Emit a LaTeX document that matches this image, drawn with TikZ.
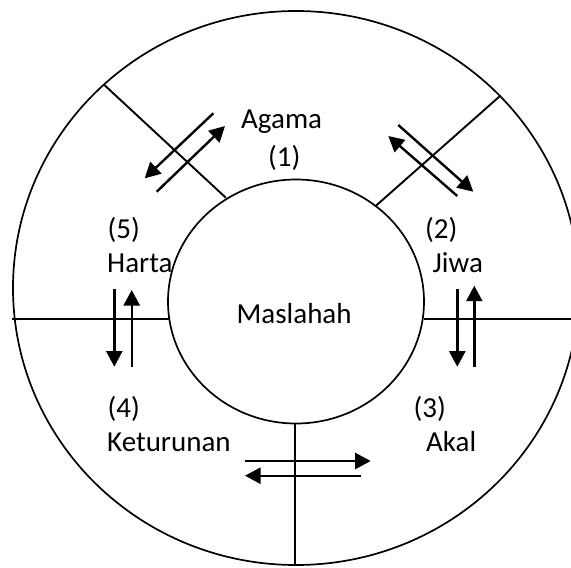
\documentclass[tikz,border=0pt]{standalone}
\usepackage{fontspec}
\setmainfont{Carlito}
\usetikzlibrary{arrows.meta}
\begin{document}
\begin{tikzpicture}[x=1pt,y=-1pt,
  ring/.style={line width=1.7pt},
  divider/.style={line width=1.9pt},
  flow/.style={line width=2.4pt,-{Triangle[length=15.5pt,width=16pt]}},
  lbl/.style={inner sep=0pt,anchor=base west,font=\fontsize{29}{35}\selectfont}]
\useasboundingbox (0,0) rectangle (571,568);
% circles
\draw[ring] (296,288) ellipse [x radius=283pt, y radius=277pt];
\draw[ring] (296,301.5) ellipse [x radius=128pt, y radius=122pt];
% dividers
\coordinate (ul1) at (103.8,84.5);  \coordinate (ul2) at (225.8,197.7);
\coordinate (ur1) at (500.7,95.4);  \coordinate (ur2) at (375.1,206.5);
\coordinate (l1) at (12,318.6);     \coordinate (l2) at (168.8,318.6);
\coordinate (r1) at (423.5,318.6);  \coordinate (r2) at (571,318.6);
\coordinate (b1) at (295,423.5);    \coordinate (b2) at (295,566);
\draw[divider] (ul1) -- (ul2);
\draw[divider] (ur1) -- (ur2);
\draw[divider] (l1) -- (l2);
\draw[divider] (r1) -- (r2);
\draw[divider] (b1) -- (b2);
% labels
\node[lbl] (agama) at (241,128.2) {Agama};
\node[lbl] (n1) at (268,166.8) {(1)};
\node[lbl] (n5) at (107.5,238.5) {(5)};
\node[lbl] (harta) at (107,272.4) {Harta};
\node[lbl] (n2) at (425,238.5) {(2)};
\node[lbl] (jiwa) at (432.5,272.4) {Jiwa};
\node[lbl] (maslahah) at (236.5,323) {Maslahah};
\node[lbl] (n4) at (107.5,417) {(4)};
\node[lbl] (keturunan) at (107,451.6) {Keturunan};
\node[lbl] (n3) at (413.5,417) {(3)};
\node[lbl] (akal) at (426,451.6) {Akal};
% arrow end points
\coordinate (a1s) at (213.3,113.3); \coordinate (a1e) at (144.7,178.3);
\coordinate (a2s) at (156.7,191.7); \coordinate (a2e) at (225,126);
\coordinate (b1s) at (398.3,125);   \coordinate (b1e) at (473.3,191.7);
\coordinate (b2s) at (457.3,196);   \coordinate (b2e) at (388.3,136);
\coordinate (c1s) at (114.3,289.3); \coordinate (c1e) at (114.3,366.7);
\coordinate (c2s) at (131.7,367.3); \coordinate (c2e) at (131.7,290);
\coordinate (d1s) at (457.3,289.3); \coordinate (d1e) at (457.3,366.7);
\coordinate (d2s) at (474.3,367);   \coordinate (d2e) at (474.3,285.7);
\coordinate (e1s) at (245,461);     \coordinate (e1e) at (370.7,461);
\coordinate (e2s) at (360.7,475.7); \coordinate (e2e) at (245,475.7);
\draw[flow] (a1s) -- (a1e);
\draw[flow] (a2s) -- (a2e);
\draw[flow] (b1s) -- (b1e);
\draw[flow] (b2s) -- (b2e);
\draw[flow] (c1s) -- (c1e);
\draw[flow] (c2s) -- (c2e);
\draw[flow] (d1s) -- (d1e);
\draw[flow] (d2s) -- (d2e);
\draw[flow] (e1s) -- (e1e);
\draw[flow] (e2s) -- (e2e);
\end{tikzpicture}
\end{document}
